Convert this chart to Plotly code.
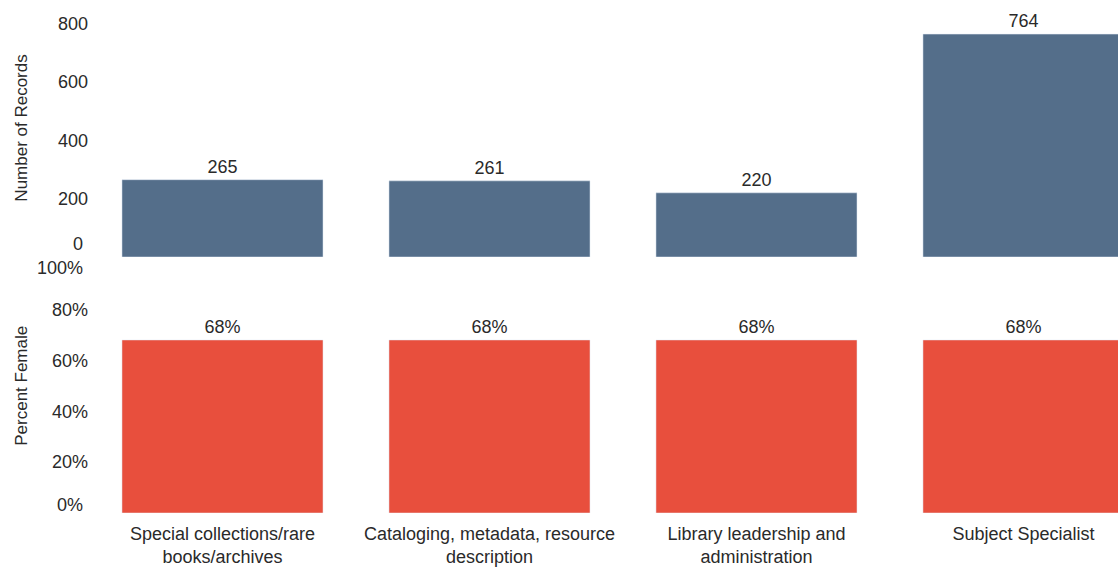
import plotly.graph_objects as go
from plotly.subplots import make_subplots

categories = ["Special collections/rare<br>books/archives",
              "Cataloging, metadata, resource<br>description",
              "Library leadership and<br>administration",
              "Subject Specialist"]
records = [265, 261, 220, 764]
pct_female = [68, 68, 68, 68]

count_ticks = [200, 400, 600, 800]
pct_ticks = [20, 40, 60, 80]

BLUE = "#546e8a"
RED = "#e84f3d"
TXT = "#2a2a2a"
FONT = "Liberation Sans, Arial, sans-serif"
FS = 18

fig = make_subplots(rows=2, cols=1, shared_xaxes=False, vertical_spacing=0)

fig.add_trace(go.Bar(x=categories, y=records, marker_color=BLUE,
                     text=[str(v) for v in records], textposition="outside",
                     textfont=dict(size=FS, color=TXT, family=FONT),
                     cliponaxis=False, width=0.753), row=1, col=1)
fig.add_trace(go.Bar(x=categories, y=pct_female, marker_color=RED,
                     text=[f"{v}%" for v in pct_female], textposition="outside",
                     textfont=dict(size=FS, color=TXT, family=FONT),
                     cliponaxis=False, width=0.753), row=2, col=1)

tf = dict(size=FS, color=TXT, family=FONT)
fig.update_layout(
    width=1118, height=569,
    margin=dict(l=89, r=0, t=0, b=56, autoexpand=False),
    paper_bgcolor="white", plot_bgcolor="white",
    showlegend=False,
    font=dict(family=FONT, size=FS, color=TXT),
    xaxis=dict(domain=[0, 1], range=[-0.5, 3.354], showticklabels=False,
               showgrid=False, zeroline=False, showline=False, ticks="",
               automargin=False),
    xaxis2=dict(domain=[0, 1], range=[-0.5, 3.354], showgrid=False,
                zeroline=False, showline=False, ticks="", automargin=False,
                ticklabelstandoff=8, tickfont=tf),
    yaxis=dict(domain=[0.499, 0.954], range=[0, 800], tickvals=count_ticks,
               showgrid=False, zeroline=False, showline=False, ticks="",
               automargin=False, tickfont=tf),
    yaxis2=dict(domain=[0, 0.496], range=[0, 100], tickvals=pct_ticks,
                ticktext=[f"{v}%" for v in pct_ticks], showgrid=False,
                zeroline=False, showline=False, ticks="", automargin=False,
                tickfont=tf),
)

# edge tick labels nudged inward (like the original)
fig.add_annotation(x=0, xref="paper", xanchor="right", xshift=-4,
                   y=0, yref="y", yshift=13, text="0", showarrow=False, font=tf)
fig.add_annotation(x=0, xref="paper", xanchor="right", xshift=-4,
                   y=100, yref="y2", yshift=-9, text="100%", showarrow=False, font=tf)
fig.add_annotation(x=0, xref="paper", xanchor="right", xshift=-4,
                   y=0, yref="y2", yshift=8, text="0%", showarrow=False, font=tf)

# axis titles
fig.add_annotation(x=-0.0651, xref="paper", xanchor="center", y=440, yref="y",
                   yanchor="middle", text="Number of Records",
                   textangle=-90, showarrow=False,
                   font=dict(size=17, color=TXT, family=FONT))
fig.add_annotation(x=-0.0651, xref="paper", xanchor="center", y=50, yref="y2",
                   yanchor="middle", text="Percent Female",
                   textangle=-90, showarrow=False,
                   font=dict(size=17, color=TXT, family=FONT))

fig.write_html("out.html", config={"displayModeBar": False},
               post_script="document.body.style.margin='0px';")
